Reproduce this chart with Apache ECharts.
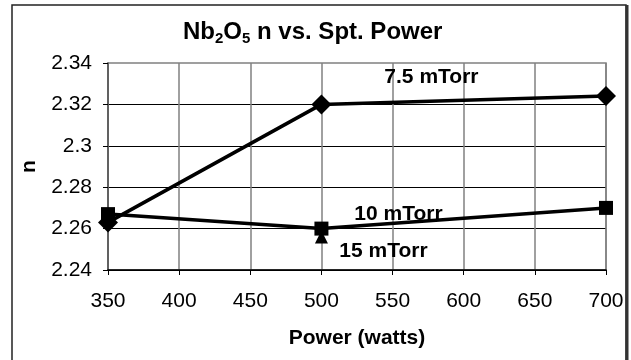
<!DOCTYPE html>
<html>
<head>
<meta charset="utf-8">
<script src="https://cdn.jsdelivr.net/npm/echarts@6/dist/echarts.min.js"></script>
<style>
  html, body { margin: 0; padding: 0; background: #fff; }
  #chart { width: 631px; height: 360px; }
</style>
</head>
<body>
<div id="chart"></div>
<script>
// data
const powers = [350, 500, 700]
const n75 = [2.263, 2.32, 2.324]     // 7.5 mTorr
const n10 = [2.267, 2.26, 2.27]      // 10 mTorr
const powers15 = [500]
const n15 = [2.256]                  // 15 mTorr

const FONT = '"Liberation Sans", Arial, sans-serif'

const chart = echarts.init(document.getElementById('chart'))

const pairs = (xs, ys) => xs.map((x, i) => [x, ys[i]])

// label of a series hung on one of its points
const tag = (text, offset) => ({
  show: true,
  formatter: text,
  position: 'inside',
  offset: offset,
  color: '#000',
  fontFamily: FONT,
  fontWeight: 'bold',
  fontSize: 21
})

const d75 = pairs(powers, n75).map((p, i) => i === 1 ? { value: p, label: tag('7.5 mTorr', [110, -27]) } : p)
const d10 = pairs(powers, n10).map((p, i) => i === 1 ? { value: p, label: tag('10 mTorr', [77, -14]) } : p)
const d15 = pairs(powers15, n15).map(p => ({ value: p, label: tag('15 mTorr', [62, 14]) }))

const option = {
  animation: false,
  backgroundColor: '#fff',
  title: {
    text: 'Nb{sub|2}O{sub|5} n vs. Spt. Power',
    left: 178,
    top: 14,
    textStyle: {
      fontFamily: FONT,
      fontWeight: 'bold',
      fontSize: 24,
      color: '#000',
      rich: {
        sub: { fontFamily: FONT, fontWeight: 'bold', fontSize: 15, verticalAlign: 'bottom', padding: [12, 0, 0, 0] }
      }
    }
  },
  graphic: [
    { type: 'rect', shape: { x: 12, y: 5, width: 614, height: 370 }, style: { fill: null, stroke: '#222', lineWidth: 1.5 }, silent: true },
    { type: 'line', shape: { x1: 627, y1: 5, x2: 627, y2: 360 }, style: { stroke: '#333', lineWidth: 3 }, silent: true }
  ],
  grid: {
    left: 108, right: 25, top: 63, bottom: 90,
    show: true, borderColor: '#808080', borderWidth: 1.5,
    containLabel: false
  },
  xAxis: {
    type: 'value',
    min: 350, max: 700, interval: 50,
    name: 'Power (watts)',
    nameLocation: 'middle',
    nameGap: 58,
    nameTextStyle: { fontFamily: FONT, fontWeight: 'bold', fontSize: 21, color: '#000' },
    axisLine: { lineStyle: { color: '#000', width: 1.5 } },
    axisTick: { show: true, length: 5, lineStyle: { color: '#000' } },
    axisLabel: { margin: 21, fontFamily: FONT, fontSize: 21, color: '#000' },
    splitLine: { show: true, lineStyle: { color: '#808080', width: 1.5 } }
  },
  yAxis: {
    type: 'value',
    min: 2.24, max: 2.34, interval: 0.02,
    name: 'n',
    nameLocation: 'middle',
    nameGap: 68,
    nameTextStyle: { fontFamily: FONT, fontWeight: 'bold', fontSize: 21, color: '#000' },
    axisLine: { show: true, lineStyle: { color: '#555', width: 1.5 } },
    axisTick: { show: true, length: 5, lineStyle: { color: '#000' } },
    axisLabel: {
      margin: 16, fontFamily: FONT, fontSize: 21, color: '#000',
      formatter: v => String(+v.toFixed(2))
    },
    splitLine: { show: true, showMaxLine: false, lineStyle: { color: '#000', width: 1 } }
  },
  series: [
    {
      name: '7.5 mTorr', type: 'line', data: d75,
      symbol: 'diamond', symbolSize: 20,
      lineStyle: { color: '#000', width: 3.5 },
      itemStyle: { color: '#000' },
      z: 3
    },
    {
      name: '10 mTorr', type: 'line', data: d10,
      symbol: 'rect', symbolSize: 14,
      lineStyle: { color: '#000', width: 3.5 },
      itemStyle: { color: '#000' },
      z: 3
    },
    {
      name: '15 mTorr', type: 'line', data: d15,
      symbol: 'triangle', symbolSize: 13,
      lineStyle: { color: '#000', width: 3.5 },
      itemStyle: { color: '#000' },
      z: 3
    }
  ]
}

chart.setOption(option)
</script>
</body>
</html>
